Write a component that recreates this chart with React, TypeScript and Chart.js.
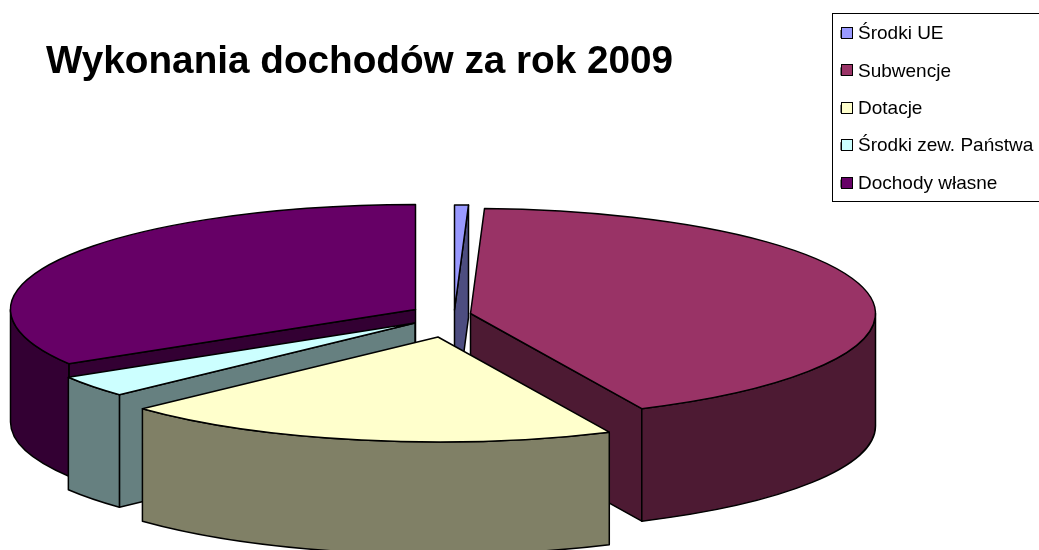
import React, { useEffect, useRef } from "react";
import { Chart, registerables } from "chart.js";

Chart.register(...registerables);

const categories = ["Środki UE", "Subwencje", "Dotacje", "Środki zew. Państwa", "Dochody własne"];
const shares = [0.55, 42.5, 19.97, 3.33, 33.65];
const topColors = ["#9999FF", "#993366", "#FFFFCC", "#CCFFFF", "#660066"];
const sideColors = ["#4D4D80", "#4D1A33", "#808066", "#668080", "#330033"];
const titleText = "Wykonania dochodów za rok 2009";

// explosion of each slice away from the pie centre, in screen pixels
const explodeX = [11.5, 27.5, -5, -28, -27.5];
const explodeY = [-6, -2.5, 21, 7, -6.5];

const PIE = { cx: 443, cy: 316, rx: 405, ry: 105, depth: 112.5 };
const LEGEND_SWATCH = 12;
const LEGEND_FONT = 19;
const LEGEND_PAD = 18.4;

const pie3d = {
  id: "pie3d",
  beforeDraw(chart: any) {
    const { ctx } = chart;
    const legend = chart.legend;
    const h = legend.bottom - legend.top;
    legend.left = 841 - LEGEND_PAD;
    legend.right = 1039;
    legend.top = 24.5 - LEGEND_PAD;
    legend.bottom = legend.top + h;
    const title = chart.titleBlock;
    title.left = 46;
    title.right = 760;
    title.top = 39.5;
    title.bottom = 86;
    ctx.save();
    ctx.strokeStyle = "#000";
    ctx.lineWidth = 1;
    ctx.strokeRect(832.5, 13.5, 210, 188);
    ctx.restore();
  },
  beforeDatasetsDraw(chart: any) {
    const { ctx } = chart;
    // legend swatches, sized as in the original (wider than Chart.js leaves room for)
    const legend = chart.legend;
    ctx.save();
    ctx.lineWidth = 1;
    ctx.strokeStyle = "#000";
    legend.legendItems.forEach((item: any, i: number) => {
      const y = Math.round(27 + i * (LEGEND_FONT + LEGEND_PAD)) + 0.5;
      ctx.fillStyle = item.fillStyle;
      ctx.fillRect(841.5, y, LEGEND_SWATCH - 1, LEGEND_SWATCH - 1);
      ctx.strokeRect(841.5, y, LEGEND_SWATCH - 1, LEGEND_SWATCH - 1);
    });
    ctx.restore();

    const arcs = chart.getDatasetMeta(0).data;
    const order = arcs
      .map((_: any, i: number) => i)
      .sort((a: number, b: number) => explodeY[a] - explodeY[b]);
    const { rx, ry, depth } = PIE;
    ctx.save();
    ctx.lineWidth = 1.5;
    ctx.strokeStyle = "#000";
    ctx.lineJoin = "round";
    for (const i of order) {
      const a0 = arcs[i].startAngle;
      const a1 = arcs[i].endAngle;
      const cx = PIE.cx + explodeX[i];
      const cy = PIE.cy + explodeY[i];
      const px = (a: number) => cx + rx * Math.cos(a);
      const py = (a: number) => cy + ry * Math.sin(a);
      ctx.fillStyle = sideColors[i];
      const radial = (a: number) => {
        ctx.beginPath();
        ctx.moveTo(cx, cy);
        ctx.lineTo(px(a), py(a));
        ctx.lineTo(px(a), py(a) + depth);
        ctx.lineTo(cx, cy + depth);
        ctx.closePath();
        ctx.fill();
        ctx.stroke();
      };
      if (Math.cos(a0) < 0) radial(a0);
      if (Math.cos(a1) > 0) radial(a1);
      const t0 = Math.max(a0, 0);
      const t1 = Math.min(a1, Math.PI);
      if (t1 > t0) {
        ctx.beginPath();
        ctx.ellipse(cx, cy, rx, ry, 0, t0, t1);
        ctx.ellipse(cx, cy + depth, rx, ry, 0, t1, t0, true);
        ctx.closePath();
        ctx.fill();
        ctx.stroke();
      }
      ctx.fillStyle = topColors[i];
      ctx.beginPath();
      ctx.moveTo(cx, cy);
      ctx.ellipse(cx, cy, rx, ry, 0, a0, a1);
      ctx.closePath();
      ctx.fill();
      ctx.stroke();
    }
    ctx.restore();
    return false;
  },
};

export default function App() {
  const ref = useRef<HTMLCanvasElement>(null);
  useEffect(() => {
    const chart = new Chart(ref.current as HTMLCanvasElement, {
      type: "pie",
      data: {
        labels: categories,
        datasets: [
          {
            data: shares,
            backgroundColor: topColors,
            borderColor: "#000",
            borderWidth: 1,
          },
        ],
      },
      options: {
        responsive: false,
        animation: false,
        events: [],
        plugins: {
          tooltip: { enabled: false },
          title: {
            display: true,
            text: titleText,
            align: "start",
            color: "#000",
            padding: 0,
            font: { family: "'Liberation Sans', Arial, sans-serif", size: 38.7, weight: "bold" },
          },
          legend: {
            position: "right",
            align: "start",
            labels: {
              color: "#000",
              boxWidth: 7.5,
              boxHeight: 8,
              padding: LEGEND_PAD,
              font: { family: "'Liberation Sans', Arial, sans-serif", size: LEGEND_FONT },
            },
          },
        },
      },
      plugins: [pie3d],
    } as any);
    return () => chart.destroy();
  }, []);
  return (
    <canvas
      ref={ref}
      width={1039}
      height={550}
      style={{ position: "absolute", left: 0, top: 0, display: "block" }}
    />
  );
}
